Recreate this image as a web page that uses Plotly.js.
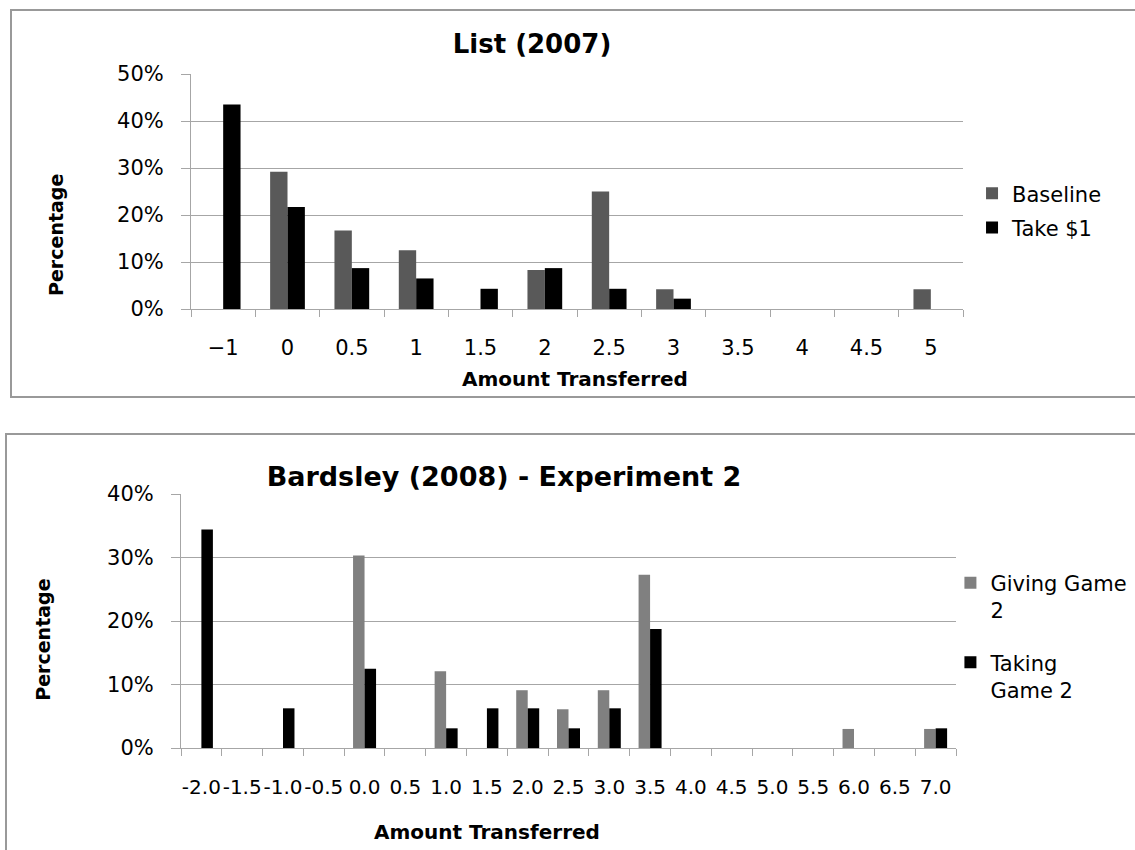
<!DOCTYPE html>
<html>
<head>
<meta charset="utf-8">
<script src="https://cdn.plot.ly/plotly-3.0.1.min.js"></script>
<style>
  html, body { margin: 0; padding: 0; background: #ffffff; width: 1135px; height: 850px; overflow: hidden; }
  .box { position: absolute; border: 2px solid #999999; box-sizing: border-box; }
  .plot { position: absolute; left: 0; }
</style>
</head>
<body>
<div class="box" style="left:10px; top:9px; width:1140px; height:389px;"></div>
<div class="box" style="left:5px; top:433px; width:1140px; height:430px;"></div>
<div id="chart1" class="plot" style="top:0px; width:1135px; height:400px;"></div>
<div id="chart2" class="plot" style="top:400px; width:1135px; height:450px;"></div>
<script>
// ---------- Data: List (2007) ----------
const listCategories = ["\u22121", "0", "0.5", "1", "1.5", "2", "2.5", "3", "3.5", "4", "4.5", "5"];
const listBaseline   = [0, 29.2, 16.7, 12.5, 0, 8.3, 25.0, 4.2, 0, 0, 0, 4.2];
const listTake1      = [43.5, 21.7, 8.7, 6.5, 4.3, 8.7, 4.3, 2.2, 0, 0, 0, 0];
const listSeriesNames = ["Baseline", "Take $1"];
const listTitle = "List (2007)";

// ---------- Data: Bardsley (2008) ----------
const bardCategories = ["-2.0", "-1.5", "-1.0", "-0.5", "0.0", "0.5", "1.0", "1.5", "2.0", "2.5",
                        "3.0", "3.5", "4.0", "4.5", "5.0", "5.5", "6.0", "6.5", "7.0"];
const bardGiving = [0, 0, 0, 0, 30.3, 0, 12.1, 0, 9.1, 6.1, 9.1, 27.3, 0, 0, 0, 0, 3.0, 0, 3.0];
const bardTaking = [34.4, 0, 6.25, 0, 12.5, 0, 3.1, 6.25, 6.25, 3.1, 6.25, 18.75, 0, 0, 0, 0, 0, 0, 3.1];
const bardSeriesNames = ["Giving Game<br>2", "Taking<br>Game 2"];
const bardTitle = "Bardsley (2008) - Experiment 2";

const yTitleText = "Percentage";
const xTitleText = "Amount Transferred";

const FONT = "DejaVu Sans, Open Sans, sans-serif";
const GRID = "#a6a6a6";

function axisX(standoff) {
  return {
    type: "category",
    showline: true, linecolor: GRID, linewidth: 1,
    ticks: "outside", tickson: "boundaries", ticklen: 7, tickcolor: GRID, tickwidth: 1,
    tickangle: 0, ticklabelstandoff: standoff,
    showgrid: false, zeroline: false,
    tickfont: { family: FONT, size: 21, color: "#000" },
    fixedrange: true
  };
}
function axisY(maxV) {
  return {
    range: [0, maxV], dtick: 10, ticksuffix: "%",
    showline: true, linecolor: GRID, linewidth: 1,
    ticks: "outside", ticklen: 9, tickcolor: GRID, tickwidth: 1,
    ticklabelstandoff: 13,
    showgrid: true, gridcolor: GRID, gridwidth: 1, zeroline: false,
    tickfont: { family: FONT, size: 21, color: "#000" },
    fixedrange: true
  };
}

// ---------- Chart 1 ----------
const traces1 = [
  { type: "bar", name: listSeriesNames[0], x: listCategories, y: listBaseline,
    marker: { color: "#595959", line: { width: 0 } }, legendgroup: "a" },
  { type: "bar", name: listSeriesNames[1], x: listCategories, y: listTake1,
    marker: { color: "#000000", line: { width: 0 } }, legendgroup: "b" }
];
const layout1 = {
  width: 1135, height: 400,
  margin: { l: 191, r: 172, t: 74, b: 91, autoexpand: false },
  paper_bgcolor: "rgba(0,0,0,0)", plot_bgcolor: "rgba(0,0,0,0)",
  barmode: "group", bargap: 0.46, bargroupgap: 0,
  font: { family: FONT, color: "#000" },
  title: { text: listTitle, font: { family: FONT, size: 26, weight: "bold", color: "#000" },
           xref: "paper", x: 0.4417, xanchor: "center", yref: "container", y: 0.89, yanchor: "middle" },
  xaxis: axisX(20),
  yaxis: axisY(50),
  showlegend: true,
  legend: { x: 1.0117, xanchor: "left", y: 0.578, yanchor: "top", font: { family: FONT, size: 21, color: "#000" },
            tracegroupgap: 4, bgcolor: "rgba(0,0,0,0)", traceorder: "grouped" },
  annotations: [
    { text: yTitleText, textangle: -90, xref: "paper", yref: "paper", x: -0.1749, y: 0.315,
      xanchor: "center", yanchor: "middle", showarrow: false,
      font: { family: FONT, size: 19, weight: "bold", color: "#000" } },
    { text: xTitleText, xref: "paper", yref: "paper", x: 0.497, y: -0.298,
      xanchor: "center", yanchor: "middle", showarrow: false,
      font: { family: FONT, size: 20, weight: "bold", color: "#000" } }
  ]
};

// ---------- Chart 2 ----------
const traces2 = [
  { type: "bar", name: bardSeriesNames[0], x: bardCategories, y: bardGiving,
    marker: { color: "#808080", line: { width: 0 } }, legendgroup: "a" },
  { type: "bar", name: bardSeriesNames[1], x: bardCategories, y: bardTaking,
    marker: { color: "#000000", line: { width: 0 } }, legendgroup: "b" }
];
const layout2 = {
  width: 1135, height: 450,
  margin: { l: 181, r: 179, t: 94, b: 102, autoexpand: false },
  paper_bgcolor: "rgba(0,0,0,0)", plot_bgcolor: "rgba(0,0,0,0)",
  barmode: "group", bargap: 0.436, bargroupgap: 0,
  font: { family: FONT, color: "#000" },
  title: { text: bardTitle, font: { family: FONT, size: 27, weight: "bold", color: "#000" },
           xref: "paper", x: 0.4168, xanchor: "center", yref: "container", y: 0.831, yanchor: "middle" },
  xaxis: Object.assign(axisX(21), { tickfont: { family: FONT, size: 20, color: "#000" } }),
  yaxis: axisY(40),
  showlegend: true,
  legend: { x: 0.9928, xanchor: "left", y: 0.73, yanchor: "top", valign: "top",
            font: { family: FONT, size: 21, color: "#000" },
            tracegroupgap: 22, bgcolor: "rgba(0,0,0,0)", traceorder: "grouped" },
  annotations: [
    { text: yTitleText, textangle: -90, xref: "paper", yref: "paper", x: -0.1775, y: 0.428,
      xanchor: "center", yanchor: "middle", showarrow: false,
      font: { family: FONT, size: 19, weight: "bold", color: "#000" } },
    { text: xTitleText, xref: "paper", yref: "paper", x: 0.395, y: -0.332,
      xanchor: "center", yanchor: "middle", showarrow: false,
      font: { family: FONT, size: 20, weight: "bold", color: "#000" } }
  ]
};

const cfg = { staticPlot: true, displayModeBar: false };
Plotly.newPlot("chart1", traces1, layout1, cfg);
Plotly.newPlot("chart2", traces2, layout2, cfg);
</script>
</body>
</html>
